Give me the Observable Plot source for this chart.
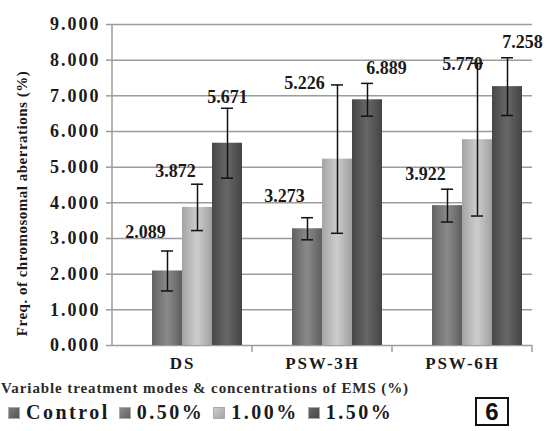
<!DOCTYPE html>
<html>
<head>
<meta charset="utf-8">
<script src="https://cdn.jsdelivr.net/npm/d3@7"></script>
<script src="https://cdn.jsdelivr.net/npm/@observablehq/plot@0.6"></script>
<style>
  html, body { margin: 0; padding: 0; background: #fff; }
  #wrap { position: relative; width: 558px; height: 431px; overflow: hidden; font-family: "Liberation Serif", "DejaVu Serif", serif; color: #1a1a1a; }
  #chart svg { display: block; }
  g[aria-label="value label"] text { letter-spacing: 1.6px; }
  g[aria-label="y-axis tick label"] text { letter-spacing: 2px; }
  g[aria-label="fx-axis tick label"] text { letter-spacing: 1.8px; }
  #caption { position: absolute; left: 1px; top: 380px; font-size: 15px; font-weight: bold; letter-spacing: 0.9px; white-space: nowrap; color: #2a2a2a; }
  #legend { position: absolute; left: 8px; top: 401px; display: flex; align-items: center; font-size: 20px; font-weight: bold; letter-spacing: 2.5px; white-space: nowrap; color: #1a1a1a; }
  #legend .item { display: flex; align-items: center; margin-right: 9px; }
  #legend .sw { width: 12px; height: 12px; margin-right: 6px; box-sizing: border-box; border: 1px solid #aaa; }
  #box6 { position: absolute; left: 475px; top: 397px; width: 34px; height: 29px; box-sizing: border-box; border: 2px solid #111; font-family: "Liberation Sans", Arial, sans-serif; font-weight: bold; font-size: 24px; line-height: 25px; text-align: center; color: #111; }
</style>
</head>
<body>
<div id="wrap">
  <div id="chart"></div>
  <div id="caption"></div>
  <div id="legend"></div>
  <div id="box6">6</div>
</div>
<script>
// ---- data ----
const categories = ["DS", "PSW-3H", "PSW-6H"];
const series = ["Control", "0.50%", "1.00%", "1.50%"];
const meansDS    = [0, 2.089, 3.872, 5.671];
const meansPSW3H = [0, 3.273, 5.226, 6.889];
const meansPSW6H = [0, 3.922, 5.770, 7.258];
const errDS      = [0, 0.56, 0.65, 0.98];
const errPSW3H   = [0, 0.31, 2.08, 0.46];
const errPSW6H   = [0, 0.46, 2.14, 0.81];
const yTicks = [0, 1, 2, 3, 4, 5, 6, 7, 8, 9];
const yTitle = "Freq. of chromosomal aberrations (%)";
const captionText = "Variable treatment modes  & concentrations of EMS (%)";

// label nudges (pixels) relative to error-bar top, per category x series
const labelNudge = [
  [[0, 0], [-22, -19], [-22, -13], [0, -11]],
  [[0, 0], [-23, -21], [-33, -2], [19, -15]],
  [[0, 0], [-22, -15], [-15, 1], [15, -16]]
];

const meansAll = [meansDS, meansPSW3H, meansPSW6H];
const errAll = [errDS, errPSW3H, errPSW6H];

const rows = [];
categories.forEach((c, i) => {
  series.forEach((s, j) => {
    rows.push({
      cat: c, s, v: meansAll[i][j], e: errAll[i][j],
      lo: meansAll[i][j] - errAll[i][j], hi: meansAll[i][j] + errAll[i][j],
      dx: labelNudge[i][j][0], dy: labelNudge[i][j][1]
    });
  });
});
const shown = rows.filter(d => d.s !== "Control");

const fillIds = {"Control": "url(#gC)", "0.50%": "url(#g05)", "1.00%": "url(#g10)", "1.50%": "url(#g15)"};
const gradStops = {
  gC:  ["#555", "#7a7a7a", "#555"],
  g05: ["#626262", "#8a8a8a", "#5e5e5e"],
  g10: ["#a4a4a4", "#cdcdcd", "#a0a0a0"],
  g15: ["#474747", "#676767", "#444"]
};

const fontSerif = "Liberation Serif, DejaVu Serif, serif";

const labelMarks = shown.map(d => Plot.text([d], {
  fx: "cat", x: "s", y: "hi",
  text: r => d3.format(".3f")(r.v),
  dx: d.dx, dy: d.dy,
  fontSize: 18, fontWeight: "bold", fill: "#1a1a1a",
  ariaLabel: "value label"
}));

const chart = Plot.plot({
  width: 558,
  height: 376,
  marginLeft: 111,
  marginRight: 25,
  marginTop: 24,
  marginBottom: 31,
  style: { fontFamily: fontSerif, color: "#1a1a1a", background: "#fff" },
  fx: { domain: categories, paddingInner: 0, paddingOuter: 0, label: null },
  x: { domain: series, paddingInner: 0, paddingOuter: 0.29, axis: null },
  y: { domain: [0, 9], label: null },
  marks: [
    Plot.gridY(yTicks, { stroke: "#9c9c9c", strokeOpacity: 1, strokeWidth: 1.5 }),
    Plot.axisY(yTicks, {
      tickSize: 6, tickPadding: 6, stroke: "#9c9c9c", strokeWidth: 1.5,
      tickFormat: d3.format(".3f"), fontSize: 18, fontWeight: "bold",
      label: null, ariaLabel: "y-axis"
    }),
    Plot.axisFx({ anchor: "bottom", tickSize: 0, tickPadding: 11, fontSize: 17, fontWeight: "bold", label: null }),
    Plot.barY(shown, {
      fx: "cat", x: "s", y: "v",
      fill: d => fillIds[d.s],
      ariaLabel: "bars"
    }),
    Plot.ruleX(shown, { fx: "cat", x: "s", y1: "lo", y2: "hi", stroke: "#111", strokeWidth: 1.5 }),
    Plot.tickY(shown, { fx: "cat", x: "s", y: "lo", stroke: "#111", strokeWidth: 1.5, insetLeft: 9, insetRight: 9 }),
    Plot.tickY(shown, { fx: "cat", x: "s", y: "hi", stroke: "#111", strokeWidth: 1.5, insetLeft: 9, insetRight: 9 }),
    ...labelMarks
  ]
});

document.getElementById("chart").appendChild(chart);

const svg = d3.select(chart);

// gradients
const defs = svg.insert("defs", ":first-child");
Object.entries(gradStops).forEach(([id, st]) => {
  const g = defs.append("linearGradient").attr("id", id).attr("x1", "0").attr("x2", "1").attr("y1", "0").attr("y2", "0");
  g.append("stop").attr("offset", "0%").attr("stop-color", st[0]);
  g.append("stop").attr("offset", "50%").attr("stop-color", st[1]);
  g.append("stop").attr("offset", "100%").attr("stop-color", st[2]);
});

// bevel chevrons on bar tops
svg.selectAll('g[aria-label="bars"] rect').each(function() {
  const r = d3.select(this);
  const x0 = +r.attr("x"), y0 = +r.attr("y"), w = +r.attr("width");
  const xm = x0 + w / 2, x1 = x0 + w;
  d3.select(this.parentNode).append("polygon")
    .attr("points", `${x0},${y0} ${x1},${y0} ${x1},${y0 + 4} ${xm},${y0 + 10} ${x0},${y0 + 4}`)
    .attr("fill", "#fff").attr("fill-opacity", 0.28);
});

// axis lines and category boundary ticks
const fx = chart.scale("fx");
const y = chart.scale("y");
const fxApply = v => fx.apply ? fx.apply(v) : (fx.range[0] + categories.indexOf(v) * fx.step);
const bw = fx.bandwidth;
const y0px = y.apply(0), y9px = y.apply(9);
const left = fxApply(categories[0]);
svg.append("line").attr("x1", left).attr("x2", left).attr("y1", y9px).attr("y2", y0px + 0.75)
  .attr("stroke", "#9c9c9c").attr("stroke-width", 1.5);
categories.forEach(c => {
  const xe = fxApply(c) + bw;
  svg.append("line").attr("x1", xe).attr("x2", xe).attr("y1", y0px).attr("y2", y0px + 7)
    .attr("stroke", "#9c9c9c").attr("stroke-width", 1.5);
});

// y title
svg.append("text")
  .attr("transform", `translate(24,${(y0px + y9px) / 2 + 19}) rotate(-90)`)
  .attr("text-anchor", "middle").attr("dominant-baseline", "middle")
  .attr("font-size", 15).attr("font-weight", "bold").attr("fill", "#1a1a1a")
  .attr("letter-spacing", "0.5px")
  .text(yTitle);

// caption and legend
document.getElementById("caption").textContent = captionText;
const legendColors = {"Control": gradStops.gC, "0.50%": gradStops.g05, "1.00%": gradStops.g10, "1.50%": gradStops.g15};
const leg = d3.select("#legend");
series.forEach(s => {
  const it = leg.append("div").attr("class", "item");
  const st = legendColors[s];
  it.append("div").attr("class", "sw").style("background", `linear-gradient(135deg, ${st[1]}, ${st[0]})`);
  it.append("span").text(s);
});
</script>
</body>
</html>
